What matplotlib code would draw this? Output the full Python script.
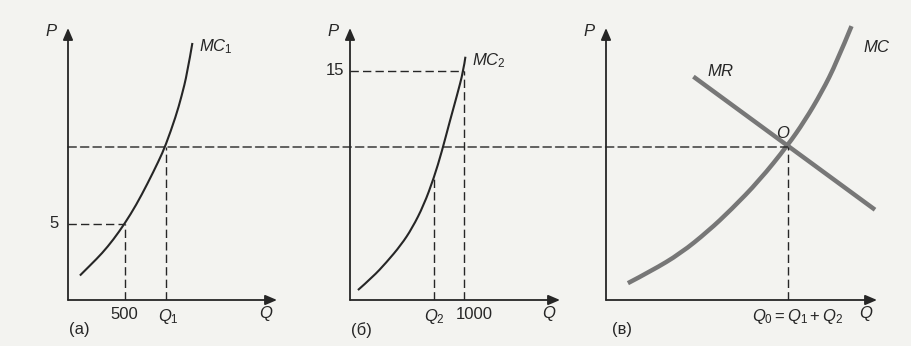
import matplotlib
matplotlib.use("Agg")
import matplotlib.pyplot as plt
from matplotlib.patches import ConnectionPatch, PathPatch
from matplotlib.path import Path

plt.rcParams['font.family'] = ['Liberation Sans', 'DejaVu Sans']
plt.rcParams['mathtext.fontset'] = 'custom'
plt.rcParams['mathtext.rm'] = 'Liberation Sans'
plt.rcParams['mathtext.it'] = 'Liberation Sans:italic'

# --- данные ---
# (а) предельные издержки первого завода
q_mc1 = [105, 200, 300, 400, 500, 600, 700, 800, 860, 950, 1000, 1050, 1096]
p_mc1 = [1.6, 2.3, 3.05, 3.95, 5.0, 6.2, 7.6, 9.1, 10.1, 12.0, 13.3, 14.8, 16.8]
# (б) предельные издержки второго завода
q_mc2 = [70, 200, 320, 450, 548, 650, 740, 809, 880, 940, 1000, 1017]
p_mc2 = [0.65, 1.5, 2.45, 3.6, 4.7, 6.2, 8.0, 9.7, 11.7, 13.3, 15.0, 15.9]
# (в) суммарные предельные издержки и предельный доход
q_mc = [193, 400, 658, 900, 1102, 1350, 1600, 1750, 1902, 2030, 2163]
p_mc = [1.1, 1.9, 3.05, 4.5, 5.9, 7.8, 10.1, 11.7, 13.6, 15.5, 17.9]
q_mr = [770, 2370]
p_mr = [14.6, 5.9]

p_star = 10
q1, q2, q0 = 860, 740, 1600
p_q2 = 8.0            # где штрих Q2 упирается в кривую
p5, q500 = 5, 500
p15, q1000 = 15, 1000

# --- геометрия (пиксели) ---
W, H = 911, 346
QPX, PPX = 0.1135, 15.3
y_bot, y_top = 300, 28
panels = [(68, 277), (350, 560), (606, 877)]

ink = '#262626'
bg = '#f3f3f0'
dash = (0, (6, 3))


def smooth_curve(ax, xs, ys, **kw):
    """Гладкая кривая через точки: квадратичные Безье между серединами отрезков."""
    pts = list(zip(xs, ys))
    verts = [pts[0]]
    codes = [Path.MOVETO]
    for i in range(1, len(pts) - 1):
        mid = ((pts[i][0] + pts[i + 1][0]) / 2, (pts[i][1] + pts[i + 1][1]) / 2)
        if i == len(pts) - 2:
            mid = pts[-1]
        verts += [pts[i], mid]
        codes += [Path.CURVE3, Path.CURVE3]
    patch = PathPatch(Path(verts, codes), fill=False, clip_on=False,
                      capstyle='butt', joinstyle='round', **kw)
    ax.add_patch(patch)


fig = plt.figure(figsize=(W / 100, H / 100), dpi=100, facecolor=bg)
axes = []
for x0, x1 in panels:
    ax = fig.add_axes([x0 / W, (H - y_bot) / H, (x1 - x0) / W, (y_bot - y_top) / H])
    ax.set_xlim(0, (x1 - x0) / QPX)
    ax.set_ylim(0, (y_bot - y_top) / PPX)
    ax.set_facecolor('none')
    ax.axis('off')
    xm, ym = ax.get_xlim()[1], ax.get_ylim()[1]
    ap = dict(arrowstyle='-|>,head_length=0.7,head_width=0.3', color=ink, lw=1.3,
              shrinkA=0, shrinkB=0)
    ax.annotate('', xy=(xm, 0), xytext=(0, 0), arrowprops=ap, annotation_clip=False)
    ax.annotate('', xy=(0, ym), xytext=(0, 0), arrowprops=ap, annotation_clip=False)
    ax.annotate('$P$', xy=(0, ym), xytext=(-12, -2), textcoords='offset points',
                ha='center', va='center', fontsize=12, color=ink)
    ax.annotate('$Q$', xy=(xm, 0), xytext=(-8, -10), textcoords='offset points',
                ha='center', va='center', fontsize=12, color=ink)
    axes.append(ax)

ax_a, ax_b, ax_c = axes
lab = dict(fontsize=12, color=ink, textcoords='offset points', annotation_clip=False)

# (а)
smooth_curve(ax_a, q_mc1, p_mc1, edgecolor=ink, lw=1.5)
ax_a.plot([0, q500], [p5, p5], color=ink, lw=1, ls=dash)
ax_a.plot([q500, q500], [0, p5], color=ink, lw=1, ls=dash)
ax_a.plot([q1, q1], [0, p_star], color=ink, lw=1, ls=dash)
ax_a.annotate('5', xy=(0, p5), xytext=(-7, 0), ha='right', va='center', **lab)
ax_a.annotate('500', xy=(q500, 0), xytext=(0, -5), ha='center', va='top', **lab)
ax_a.annotate('$Q_1$', xy=(q1, 0), xytext=(2, -5), ha='center', va='top', **lab)
ax_a.annotate('$MC_1$', xy=(q_mc1[-1], p_mc1[-1]), xytext=(5, -3), ha='left', va='center', **lab)
ax_a.annotate('(а)', xy=(0, 0), xytext=(1, -16), ha='left', va='top', **lab)

# (б)
smooth_curve(ax_b, q_mc2, p_mc2, edgecolor=ink, lw=1.5)
ax_b.plot([0, q1000], [p15, p15], color=ink, lw=1, ls=dash)
ax_b.plot([q1000, q1000], [0, p15], color=ink, lw=1, ls=dash)
ax_b.plot([q2, q2], [0, p_q2], color=ink, lw=1, ls=dash)
ax_b.annotate('15', xy=(0, p15), xytext=(-4, 0), ha='right', va='center', **lab)
ax_b.annotate('$Q_2$', xy=(q2, 0), xytext=(0, -5), ha='center', va='top', **lab)
ax_b.annotate('1000', xy=(q1000, 0), xytext=(8, -5), ha='center', va='top', **lab)
ax_b.annotate('$MC_2$', xy=(q_mc2[-1], p_mc2[-1]), xytext=(5, -3), ha='left', va='center', **lab)
ax_b.annotate('(б)', xy=(0, 0), xytext=(1, -16), ha='left', va='top', **lab)

# (в)
smooth_curve(ax_c, q_mc, p_mc, edgecolor='#777777', lw=3.2)
ax_c.plot(q_mr, p_mr, color='#777777', lw=3.2, clip_on=False, solid_capstyle='butt')
ax_c.plot([q0, q0], [0, p_star], color=ink, lw=1, ls=dash)
ax_c.annotate('$Q_0 = Q_1 + Q_2$', xy=(q0, 0), xytext=(7, -5), ha='center', va='top', **lab)
ax_c.annotate('$MC$', xy=(q_mc[-1], p_mc[-1]), xytext=(8, -15), ha='left', va='center', **lab)
ax_c.annotate('$MR$', xy=(q_mr[0], p_mr[0]), xytext=(10, 4), ha='left', va='center', **lab)
ax_c.annotate('$O$', xy=(q0, p_star), xytext=(-3, 10), ha='center', va='center', **lab)
ax_c.annotate('(в)', xy=(0, 0), xytext=(4, -16), ha='left', va='top', **lab)

# общий уровень цены через все три графика
con = ConnectionPatch(xyA=(0, p_star), coordsA=ax_a.transData,
                      xyB=(q0, p_star), coordsB=ax_c.transData,
                      color=ink, lw=1, ls=dash)
fig.add_artist(con)

fig.savefig('out.png', dpi=100, facecolor=bg)
